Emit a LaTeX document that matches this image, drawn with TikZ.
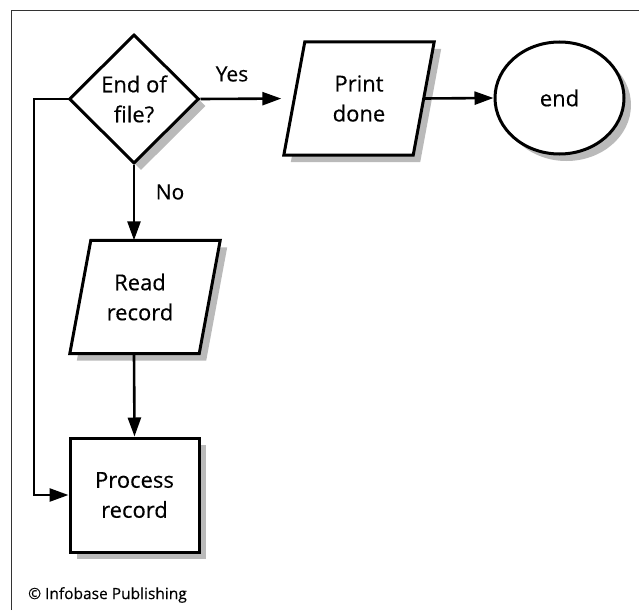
\documentclass[tikz,border=0pt]{standalone}
\usepackage{fontspec}
\setmainfont{Open Sans}[FakeBold=0.35]
\usetikzlibrary{shapes.geometric,shadows,arrows.meta,backgrounds}
\begin{document}
\begin{tikzpicture}[x=1pt,y=-1pt,
  shd/.style={drop shadow={shadow xshift=7pt, shadow yshift=-7pt, fill=black!27, opacity=1}},
  shp/.style={draw=black, line width=3pt, fill=white, inner sep=0pt,
    font=\fontsize{22}{30}\selectfont, align=center, shd},
  txt/.style={inner sep=0pt, font=\fontsize{22}{30}\selectfont, align=center,
    minimum width=129pt, minimum height=113pt},
  pline/.style={draw=black, line width=3pt, fill=white, line join=miter, shd},
  conn/.style={line width=2.6pt, -{Triangle[length=19pt,width=13pt]}},
  lbl/.style={font=\fontsize{21}{24}\selectfont, inner sep=0pt}
]
\useasboundingbox (0,0) rectangle (639,610);
\draw[line width=1pt, black!80] (11,610) -- (11,11) -- (639,11);

\node[shp, diamond, minimum width=130pt, minimum height=129pt] (dec) at (134,99) {End of\\file?};
\node[txt] (print) at (359,98.5) {Print\\done};
\node[shp, ellipse, minimum width=129pt, minimum height=112pt] (end) at (559.5,98) {end};
\node[txt] (read) at (145,297) {\hspace*{-10pt}Read\\\hspace*{-10pt}record};
\node[shp, rectangle, minimum width=129pt, minimum height=114pt] (proc) at (134.5,495) {Process\\record};

\begin{scope}[on background layer]
\draw[pline] ([xshift=10.5pt]print.north west) -- ([xshift=10.5pt]print.north east)
  -- ([xshift=-10.5pt]print.south east) -- ([xshift=-10.5pt]print.south west) -- cycle;
\draw[pline] ([xshift=10.5pt]read.north west) -- ([xshift=10.5pt]read.north east)
  -- ([xshift=-10.5pt]read.south east) -- ([xshift=-10.5pt]read.south west) -- cycle;
\end{scope}

\node[lbl] (yes) at (232,74) {Yes};
\node[lbl] (no) at (170,192) {No};
\node[font=\fontsize{15.5}{18}\selectfont, anchor=west, inner sep=0pt] (copy) at (28,595) {© Infobase Publishing};

\coordinate (bend) at (34,99);
\draw[conn, shorten >=13pt] (dec.east) -- (print.west);
\draw[conn] (print.east) -- (end.west);
\draw[conn] (dec.south) -- (read.north -| dec.south);
\draw[conn] (read.south -| dec.south) -- (proc.north);
\draw[conn] (dec.west) -- (bend) |- (proc.west);
\end{tikzpicture}
\end{document}
